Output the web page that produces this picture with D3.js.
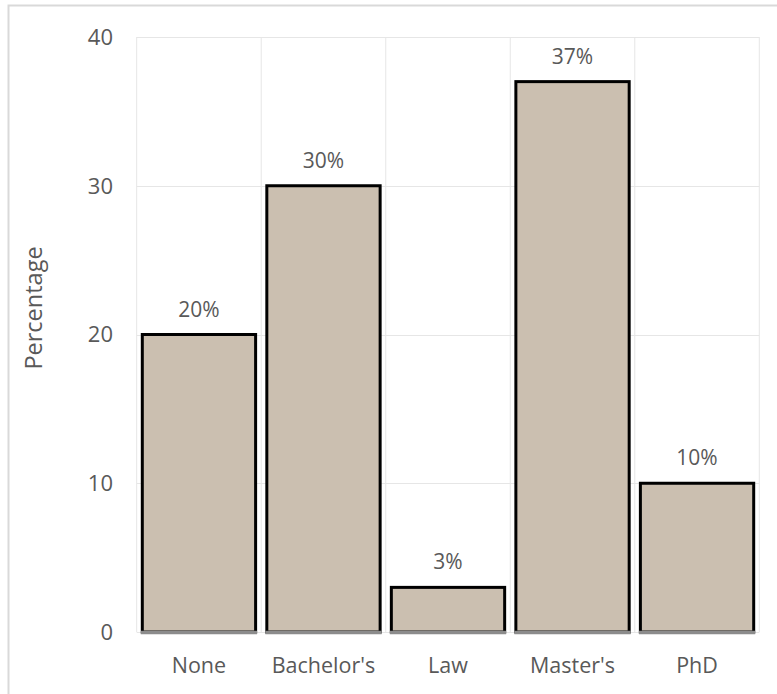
<!DOCTYPE html>
<html>
<head>
<meta charset="utf-8">
<script src="https://cdn.jsdelivr.net/npm/d3@7"></script>
<style>
  html, body { margin: 0; padding: 0; background: #fff; }
  svg { display: block; }
  text { font-family: "Open Sans", sans-serif; fill: #595959; }
</style>
</head>
<body>
<script>
// Highest degree held, share of respondents (%)
const categories = ["None", "Bachelor's", "Law", "Master's", "PhD"];
const percentages = [20, 30, 3, 37, 10];
const yTicks = [0, 10, 20, 30, 40];
const yTitle = "Percentage";

const W = 777, H = 694;
const plot = { left: 136.7, right: 759.3, top: 37, bottom: 632 };

const svg = d3.select("body").append("svg")
  .attr("width", W).attr("height", H);

// chart frame
svg.append("rect")
  .attr("x", 8.5).attr("y", 5.5)
  .attr("width", W + 10).attr("height", H + 10)
  .attr("fill", "none").attr("stroke", "#d9d9d9").attr("stroke-width", 2);

const x = d3.scaleBand()
  .domain(categories)
  .range([plot.left, plot.right])
  .paddingInner(0.09)
  .paddingOuter(0.045);

const y = d3.scaleLinear()
  .domain([0, 40])
  .range([plot.bottom, plot.top]);

// horizontal gridlines
svg.append("g").selectAll("line")
  .data(yTicks)
  .join("line")
  .attr("x1", plot.left).attr("x2", plot.right)
  .attr("y1", d => Math.round(y(d)) + 0.5).attr("y2", d => Math.round(y(d)) + 0.5)
  .attr("stroke", "#e6e6e6").attr("stroke-width", 1);

// vertical gridlines at category boundaries
const step = x.step();
const bounds = d3.range(categories.length + 1).map(i => plot.left + i * step);
svg.append("g").selectAll("line")
  .data(bounds)
  .join("line")
  .attr("x1", d => d).attr("x2", d => d)
  .attr("y1", plot.top).attr("y2", plot.bottom)
  .attr("stroke", "#e6e6e6").attr("stroke-width", 1);

// y tick labels
svg.append("g").selectAll("text")
  .data(yTicks)
  .join("text")
  .attr("x", 113)
  .attr("y", d => y(d))
  .attr("dy", "0.36em")
  .attr("text-anchor", "end")
  .attr("font-size", 22)
  .text(d => d);

// y title
svg.append("text")
  .attr("transform", "translate(42,308) rotate(-90)")
  .attr("text-anchor", "middle")
  .attr("font-size", 23.5)
  .text(yTitle);

const data = categories.map((c, i) => ({ cat: c, value: percentages[i] }));

// bars
svg.append("g").selectAll("rect")
  .data(data)
  .join("rect")
  .attr("x", d => x(d.cat))
  .attr("width", x.bandwidth())
  .attr("y", d => y(d.value))
  .attr("height", d => y(0) - y(d.value))
  .attr("fill", "#cbbfb0")
  .attr("stroke", "#000")
  .attr("stroke-width", 3);

// axis line under each bar
svg.append("g").selectAll("line")
  .data(data)
  .join("line")
  .attr("x1", d => x(d.cat) - 1.5)
  .attr("x2", d => x(d.cat) + x.bandwidth() + 1.5)
  .attr("y1", y(0) + 0.5).attr("y2", y(0) + 0.5)
  .attr("stroke", "#8c8c8c").attr("stroke-width", 3.5);

// value labels
svg.append("g").selectAll("text")
  .data(data)
  .join("text")
  .attr("x", d => x(d.cat) + x.bandwidth() / 2)
  .attr("y", d => y(d.value) - 18)
  .attr("text-anchor", "middle")
  .attr("font-size", 21)
  .text(d => d.value + "%");

// category labels
svg.append("g").selectAll("text")
  .data(categories)
  .join("text")
  .attr("x", d => x(d) + x.bandwidth() / 2)
  .attr("y", 673)
  .attr("text-anchor", "middle")
  .attr("font-size", 21.5)
  .text(d => d);
</script>
</body>
</html>
